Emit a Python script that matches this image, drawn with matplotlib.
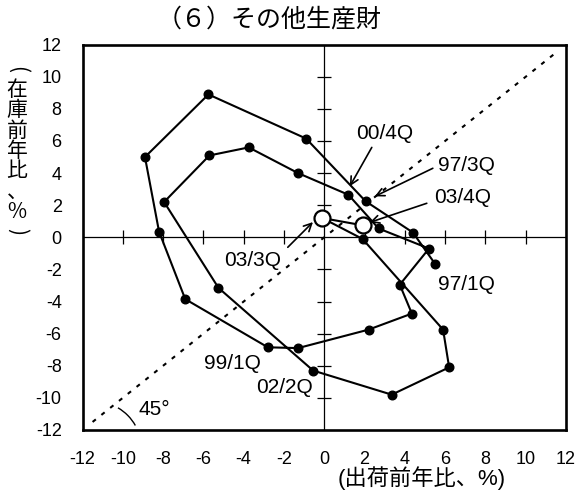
import numpy as np
import matplotlib
matplotlib.use("Agg")
import matplotlib.pyplot as plt
from matplotlib.patches import Arc

plt.rcParams['font.family'] = ['Liberation Sans', 'Noto Sans CJK JP', 'DejaVu Sans']
plt.rcParams['axes.unicode_minus'] = False

# quarterly path, 97/1Q .. 03/4Q  (x: shipments yoy %, y: inventory yoy %)
quarters = ['97/1Q', '97/2Q', '97/3Q', '97/4Q',
            '98/1Q', '98/2Q', '98/3Q', '98/4Q',
            '99/1Q', '99/2Q', '99/3Q', '99/4Q',
            '00/1Q', '00/2Q', '00/3Q', '00/4Q',
            '01/1Q', '01/2Q', '01/3Q', '01/4Q',
            '02/1Q', '02/2Q', '02/3Q', '02/4Q',
            '03/1Q', '03/2Q', '03/3Q', '03/4Q']
shipments = [5.5, 4.4, 2.05, -0.9,
             -5.75, -8.9, -8.2, -6.9,
             -2.8, -1.3, 2.2, 4.35,
             3.75, 5.2, 2.7, 1.2,
             -1.3, -3.75, -5.7, -7.95,
             -5.25, -0.55, 3.35, 6.2,
             5.9, 1.9, -0.1, 1.9]
inventory = [-1.65, 0.3, 2.25, 6.15,
             8.9, 5.0, 0.35, -3.85,
             -6.85, -6.9, -5.75, -4.75,
             -2.95, -0.7, 0.55, 2.65,
             4.0, 5.6, 5.1, 2.2,
             -3.15, -8.3, -9.8, -8.1,
             -5.75, -0.1, 1.2, 0.75]
latest = ['03/3Q', '03/4Q']          # drawn as open circles
labelled = ['97/1Q', '97/3Q', '99/1Q', '00/4Q', '02/2Q', '03/3Q', '03/4Q']
ticks = list(range(-12, 13, 2))
ylabel_chars = ['在', '庫', '前', '年', '比', '、', '%']

fig = plt.figure(figsize=(5.75, 4.94), dpi=100)
ax = fig.add_axes([0.1435, 0.1296, 0.8408, 0.78])
ax.set_xlim(-12, 12)
ax.set_ylim(-12, 12)

for s in ax.spines.values():
    s.set_linewidth(1.9)
ax.set_xticks(ticks)
ax.set_yticks(ticks)
ax.tick_params(length=0, labelsize=13, pad=15)

# zero axes with crossing tick marks
ax.axhline(0, color='black', lw=0.9, zorder=1)
ax.axvline(0, color='black', lw=0.9, zorder=1)
inner = [t for t in ticks if abs(t) not in (0, 12)]
ax.plot(inner, [0] * len(inner), ls='none', marker='|', ms=10, mew=0.9, color='black', zorder=1)
ax.plot([0] * len(inner), inner, ls='none', marker='_', ms=10, mew=0.9, color='black', zorder=1)

# 45 degree line
ax.plot([-11.5, 11.5], [-11.5, 11.5], color='black', lw=1.5, ls=(0, (2, 3.4)), zorder=2)
ax.add_patch(Arc((-11.42, -13.15), 4.68, 5.86, theta1=35, theta2=65,
                 color='black', lw=1.0, clip_on=False))
ax.text(-8.45, -10.7, '45°', fontsize=15, ha='center', va='center')

x = np.array(shipments)
y = np.array(inventory)
is_latest = np.array([q in latest for q in quarters])
ax.plot(x, y, color='black', lw=1.5, zorder=3)
ax.plot(x[~is_latest], y[~is_latest], ls='none', marker='o', ms=6.2,
        color='black', zorder=4)
ax.plot(x[is_latest], y[is_latest], ls='none', marker='o', ms=11.5,
        mfc='white', mec='black', mew=1.6, zorder=5)

# quarter labels: text position and optional arrow (tail x, tail y, head x, head y)
label_pos = {
    '97/1Q': (7.08, -2.93, None),
    '97/3Q': (7.08, 4.49, (5.39, 4.3, 2.51, 2.55)),
    '99/1Q': (-4.57, -7.88, None),
    '00/4Q': (3.0, 6.45, (2.36, 5.6, 1.27, 3.18)),
    '02/2Q': (-1.96, -9.38, None),
    '03/3Q': (-3.58, -1.43, (-1.81, -0.62, -0.56, 0.95)),
    '03/4Q': (6.88, 2.46, (5.09, 2.12, 2.26, 0.93)),
}
for q in labelled:
    tx, ty, arr = label_pos[q]
    ax.text(tx, ty, q, fontsize=15, ha='center', va='center', zorder=6)
    if arr is not None:
        ax.annotate('', xy=(arr[2], arr[3]), xytext=(arr[0], arr[1]),
                    arrowprops=dict(arrowstyle='->', lw=1.2, color='black',
                                    shrinkA=0, shrinkB=0, mutation_scale=14),
                    zorder=6)

fig.text(0.468, 0.9605, '（６）その他生産財', fontsize=18, ha='center', va='center')
fig.text(0.88, 0.032, '(出荷前年比、%)', fontsize=16, ha='right', va='center')

# vertical y label: stacked characters between rotated parentheses
cjk = ['Noto Sans CJK JP', 'DejaVu Sans']
fig.text(17 / 575, 1 - 151 / 494, '\n'.join(ylabel_chars), fontsize=15,
         ha='center', va='center', linespacing=0.9, family=cjk)
fig.text(17 / 575, 1 - 70 / 494, '(', fontsize=15, rotation=-90,
         ha='center', va='center', family=cjk)
fig.text(17 / 575, 1 - 232 / 494, ')', fontsize=15, rotation=-90,
         ha='center', va='center', family=cjk)

fig.savefig('out.png', dpi=100)
